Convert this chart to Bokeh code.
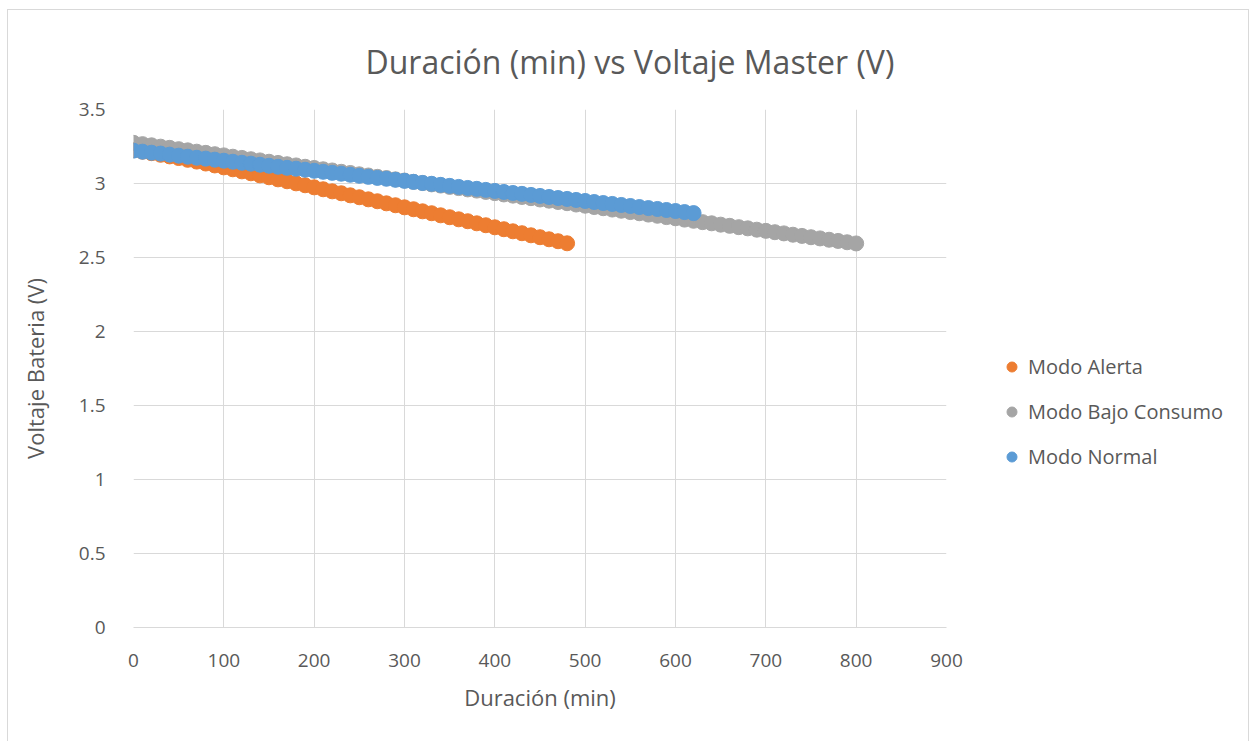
from bokeh.plotting import figure
from bokeh.layouts import row
from bokeh.models import ColumnDataSource, FixedTicker, Legend, LegendItem, Range1d, Title
from bokeh.embed import file_html
from bokeh.resources import INLINE

# Battery voltage readings, one sample every 10 minutes
minutes_alerta = list(range(0, 481, 10))
volt_alerta = [
    3.225, 3.215, 3.205, 3.194, 3.183, 3.172, 3.160, 3.148, 3.135, 3.122,
    3.109, 3.096, 3.082, 3.069, 3.055, 3.042, 3.028, 3.015, 3.001, 2.988,
    2.974, 2.961, 2.947, 2.934, 2.920, 2.907, 2.893, 2.880, 2.866, 2.853,
    2.839, 2.826, 2.812, 2.799, 2.785, 2.772, 2.758, 2.745, 2.731, 2.718,
    2.704, 2.691, 2.677, 2.664, 2.650, 2.637, 2.623, 2.610, 2.596,
]

minutes_bajo = list(range(0, 801, 10))
volt_bajo = [
    3.275, 3.266, 3.258, 3.249, 3.241, 3.232, 3.224, 3.215, 3.207, 3.198,
    3.190, 3.181, 3.173, 3.164, 3.156, 3.147, 3.139, 3.130, 3.122, 3.113,
    3.105, 3.096, 3.088, 3.079, 3.071, 3.062, 3.054, 3.045, 3.037, 3.028,
    3.020, 3.011, 3.003, 2.994, 2.986, 2.977, 2.969, 2.960, 2.952, 2.943,
    2.935, 2.926, 2.918, 2.909, 2.901, 2.892, 2.884, 2.875, 2.867, 2.858,
    2.850, 2.841, 2.833, 2.824, 2.816, 2.807, 2.799, 2.790, 2.782, 2.773,
    2.765, 2.756, 2.748, 2.739, 2.731, 2.722, 2.714, 2.705, 2.697, 2.688,
    2.680, 2.671, 2.663, 2.654, 2.646, 2.637, 2.629, 2.620, 2.612, 2.603,
    2.595,
]

minutes_normal = list(range(0, 621, 10))
volt_normal = [
    3.222, 3.215, 3.208, 3.202, 3.195, 3.188, 3.181, 3.174, 3.168, 3.161,
    3.154, 3.147, 3.140, 3.134, 3.127, 3.120, 3.113, 3.106, 3.100, 3.093,
    3.086, 3.079, 3.072, 3.066, 3.059, 3.052, 3.045, 3.038, 3.032, 3.025,
    3.018, 3.011, 3.004, 2.998, 2.991, 2.984, 2.977, 2.970, 2.964, 2.957,
    2.950, 2.943, 2.936, 2.930, 2.923, 2.916, 2.909, 2.902, 2.896, 2.889,
    2.882, 2.875, 2.868, 2.862, 2.855, 2.848, 2.841, 2.834, 2.828, 2.821,
    2.814, 2.807, 2.800,
]

series_names = ["Modo Alerta", "Modo Bajo Consumo", "Modo Normal"]
series_colors = ["#ed7d31", "#a5a5a5", "#5b9bd5"]

x_ticks = [0, 100, 200, 300, 400, 500, 600, 700, 800, 900]
y_ticks = [0, 0.5, 1, 1.5, 2, 2.5, 3, 3.5]

FONT = "Open Sans"
TEXT = "#595959"
GRID = "#d9d9d9"

# Main scatter chart
p = figure(
    width=978, height=740,
    x_range=Range1d(0, 900), y_range=Range1d(0, 3.5),
    output_backend="svg", toolbar_location=None,
    min_border_left=125, min_border_right=40,
    min_border_top=99, min_border_bottom=123,
)
p.outline_line_color = None

p.add_layout(Title(
    text="Duración (min) vs Voltaje Master (V)", align="left", offset=232,
    standoff=53, text_font=FONT, text_font_size="32px",
    text_font_style="normal", text_color=TEXT,
), "above")

for ax in (p.xaxis[0], p.yaxis[0]):
    ax.major_tick_line_color = None
    ax.minor_tick_line_color = None
    ax.major_label_text_font = FONT
    ax.major_label_text_font_size = "19px"
    ax.major_label_text_color = TEXT
    ax.axis_label_text_font = FONT
    ax.axis_label_text_font_size = "22px"
    ax.axis_label_text_font_style = "normal"
    ax.axis_label_text_color = TEXT

p.xaxis.ticker = FixedTicker(ticks=x_ticks)
p.yaxis.ticker = FixedTicker(ticks=y_ticks)
p.xaxis.axis_label = "Duración (min)"
p.yaxis.axis_label = "Voltaje Bateria (V)"
p.xaxis.axis_line_color = GRID
p.yaxis.axis_line_color = None
p.xaxis.major_label_standoff = 20
p.yaxis.major_label_standoff = 22
p.xaxis.axis_label_standoff = 12
p.yaxis.axis_label_standoff = 26

p.xgrid.grid_line_color = GRID
p.ygrid.grid_line_color = GRID

data = [
    (minutes_alerta, volt_alerta),
    (minutes_bajo, volt_bajo),
    (minutes_normal, volt_normal),
]

for (xs, ys), color in zip(data, series_colors):
    src = ColumnDataSource(dict(x=xs, y=ys))
    p.scatter("x", "y", source=src, size=15, marker="circle",
              fill_color=color, line_color=color)

# Legend panel beside the chart
lg = figure(
    width=262, height=740,
    x_range=Range1d(0, 1), y_range=Range1d(0, 1),
    output_backend="svg", toolbar_location=None,
    min_border=0,
)
lg.axis.visible = False
lg.grid.visible = False
lg.outline_line_color = None

items = []
for name, color in zip(series_names, series_colors):
    r = lg.scatter(x=[-10], y=[-10], size=10, marker="circle",
                   fill_color=color, line_color=color)
    items.append(LegendItem(label=name, renderers=[r]))

lg.add_layout(Legend(
    items=items, location=(13, 157),
    glyph_width=25, glyph_height=25, label_height=25,
    label_standoff=4, spacing=18,
    padding=0, margin=0, border_line_color=None, background_fill_alpha=0,
    label_text_font=FONT, label_text_font_size="20px", label_text_color=TEXT,
))

layout = row(p, lg, styles={"margin-left": "7px", "margin-top": "9px",
                            "border": "1px solid #d9d9d9"})

open("out.html", "w").write(file_html(layout, INLINE))
